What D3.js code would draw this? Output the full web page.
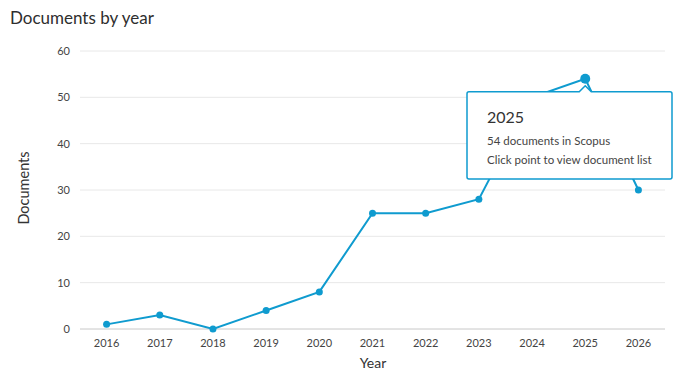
<!DOCTYPE html>
<html><head><meta charset="utf-8">
<script src="https://cdn.jsdelivr.net/npm/d3@7"></script>
<style>body{margin:0;background:#fff;font-family:Lato,"Open Sans",sans-serif;}</style>
</head><body>
<svg id="c" width="674" height="370"></svg>
<script>
const years = [2016,2017,2018,2019,2020,2021,2022,2023,2024,2025,2026];
const documents = [1,3,0,4,8,25,25,28,50,54,30];
const yTicks = [0,10,20,30,40,50,60];
const hoverYear = 2025;
const tooltipLines = ["2025","54 documents in Scopus","Click point to view document list"];

const svg = d3.select("#c");
const color = "#0f9bcf";
const L = 80, R = 665, T = 51, B = 329;
const x = d3.scalePoint().domain(years).range([L,R]).padding(0.5);
const y = d3.scaleLinear().domain([0,60]).range([B,T]);

svg.append("text").attr("x",10).attr("y",24).attr("font-size",17).attr("fill","#2e2e2e").text("Documents by year");

// grid
svg.append("g").selectAll("line").data(yTicks).join("line")
  .attr("x1",L).attr("x2",R).attr("y1",d=>y(d)).attr("y2",d=>y(d))
  .attr("stroke",d=>d===0?"#c8c8c8":"#e8e8e8").attr("stroke-width",1);
svg.append("g").selectAll("text").data(yTicks).join("text")
  .attr("x",70).attr("y",d=>y(d)+4).attr("text-anchor","end")
  .attr("font-size",11).attr("fill","#444").text(d=>d);
svg.append("g").selectAll("text").data(years).join("text")
  .attr("x",d=>x(d)).attr("y",347).attr("text-anchor","middle")
  .attr("font-size",11).attr("fill","#444").text(d=>d);

svg.append("text").attr("transform","translate(29,188) rotate(-90)").attr("text-anchor","middle")
  .attr("font-size",14.5).attr("fill","#333").text("Documents");
svg.append("text").attr("x",373).attr("y",368).attr("text-anchor","middle")
  .attr("font-size",14).attr("fill","#333").text("Year");

const data = years.map((yr,i)=>({yr,v:documents[i]}));
svg.append("path").datum(data)
  .attr("d",d3.line().x(d=>x(d.yr)).y(d=>y(d.v)))
  .attr("fill","none").attr("stroke",color).attr("stroke-width",2);
svg.append("g").selectAll("circle").data(data).join("circle")
  .attr("cx",d=>x(d.yr)).attr("cy",d=>y(d.v))
  .attr("r",d=>d.yr===hoverYear?5:3.5).attr("fill",color);

// tooltip
const hv = data.find(d=>d.yr===hoverYear);
const px = x(hv.yr), tx0 = 467, tx1 = 672, ty0 = y(hv.v)+13, ty1 = 179;
const notch = 6;
const tp = `M${tx0+2},${ty0} L${px-notch},${ty0} L${px},${ty0-notch} L${px+notch},${ty0} L${tx1-2},${ty0} Q${tx1},${ty0} ${tx1},${ty0+2} L${tx1},${ty1-2} Q${tx1},${ty1} ${tx1-2},${ty1} L${tx0+2},${ty1} Q${tx0},${ty1} ${tx0},${ty1-2} L${tx0},${ty0+2} Q${tx0},${ty0} ${tx0+2},${ty0} Z`;
svg.append("path").attr("d",tp).attr("fill","#fff").attr("stroke",color).attr("stroke-width",1.5);
svg.append("text").attr("x",487).attr("y",123).attr("font-size",16).attr("fill","#333").text(tooltipLines[0]);
svg.append("text").attr("x",487).attr("y",145).attr("font-size",11.5).attr("fill","#444").text(tooltipLines[1]);
svg.append("text").attr("x",487).attr("y",164).attr("font-size",11.5).attr("fill","#444").text(tooltipLines[2]);
</script>
</body></html>
